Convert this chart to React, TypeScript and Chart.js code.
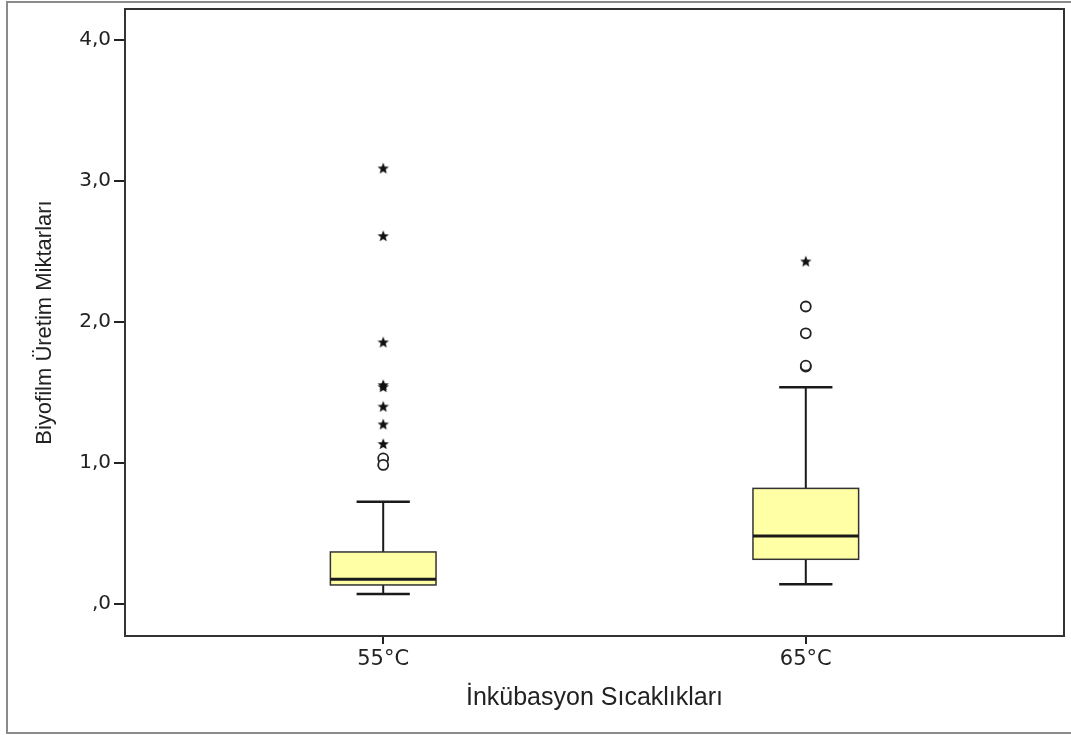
import React, { useEffect, useRef } from 'react';
import { Chart, registerables } from 'chart.js';

Chart.register(...registerables);

// ---- data ----
const categories = ['55°C', '65°C'];
const whiskerLow = [0.071, 0.14];
const q1 = [0.135, 0.317];
const median = [0.175, 0.482];
const q3 = [0.369, 0.82];
const whiskerHigh = [0.726, 1.537];
const outliers55 = [1.033, 0.986];
const outliers65 = [2.11, 1.92, 1.683, 1.69];
const extremes55 = [3.09, 2.61, 1.856, 1.553, 1.539, 1.4, 1.274, 1.135];
const extremes65 = [2.43];
const yTicks = [0, 1, 2, 3, 4];
const xTitle = 'İnkübasyon Sıcaklıkları';
const yTitle = 'Biyofilm Üretim Miktarları';

// ---- styles ----
const BOX_HALF = 0.125;
const CAP_HALF = 0.063;
const BOX_FILL = '#FFFFA6';
const INK = '#1a1a1a';

function makeStar(): HTMLCanvasElement {
  const c = document.createElement('canvas');
  c.width = 14;
  c.height = 14;
  const g = c.getContext('2d')!;
  g.fillStyle = '#111';
  g.beginPath();
  const cx = 7, cy = 7.3, ro = 6, ri = 2.6;
  for (let k = 0; k < 10; k++) {
    const r = k % 2 === 0 ? ro : ri;
    const a = -Math.PI / 2 + (k * Math.PI) / 5;
    const px = cx + r * Math.cos(a);
    const py = cy + r * Math.sin(a);
    if (k === 0) g.moveTo(px, py);
    else g.lineTo(px, py);
  }
  g.closePath();
  g.fill();
  return c;
}

const boxPlugin = {
  id: 'boxes',
  beforeDatasetsDraw(chart: any) {
    const { ctx, scales } = chart;
    const x = scales.x, y = scales.y;
    ctx.save();
    categories.forEach((_, i) => {
      const v = i + 1;
      const cx = x.getPixelForValue(v);
      const bl = x.getPixelForValue(v - BOX_HALF);
      const br = x.getPixelForValue(v + BOX_HALF);
      const cl = x.getPixelForValue(v - CAP_HALF);
      const cr = x.getPixelForValue(v + CAP_HALF);
      const yLo = y.getPixelForValue(whiskerLow[i]);
      const yQ1 = y.getPixelForValue(q1[i]);
      const yMed = y.getPixelForValue(median[i]);
      const yQ3 = y.getPixelForValue(q3[i]);
      const yHi = y.getPixelForValue(whiskerHigh[i]);
      ctx.strokeStyle = INK;
      ctx.lineWidth = 2;
      ctx.beginPath();
      ctx.moveTo(cx, yLo); ctx.lineTo(cx, yQ1);
      ctx.moveTo(cx, yQ3); ctx.lineTo(cx, yHi);
      ctx.stroke();
      ctx.lineWidth = 2.5;
      ctx.beginPath();
      ctx.moveTo(cl, yLo); ctx.lineTo(cr, yLo);
      ctx.moveTo(cl, yHi); ctx.lineTo(cr, yHi);
      ctx.stroke();
      ctx.fillStyle = BOX_FILL;
      ctx.fillRect(bl, yQ3, br - bl, yQ1 - yQ3);
      ctx.lineWidth = 1.5;
      ctx.strokeStyle = '#333';
      ctx.strokeRect(bl, yQ3, br - bl, yQ1 - yQ3);
      ctx.strokeStyle = INK;
      ctx.lineWidth = 3;
      ctx.beginPath();
      ctx.moveTo(bl, yMed); ctx.lineTo(br, yMed);
      ctx.stroke();
    });
    ctx.restore();
  },
};

const framePlugin = {
  id: 'frames',
  beforeDraw(chart: any) {
    const { ctx, width, height } = chart;
    ctx.save();
    ctx.fillStyle = '#fff';
    ctx.fillRect(0, 0, width, height);
    ctx.strokeStyle = '#8a8a8a';
    ctx.lineWidth = 2;
    ctx.strokeRect(7, 2, width + 20, 731);
    ctx.restore();
  },
  afterDraw(chart: any) {
    const { ctx, chartArea: a } = chart;
    ctx.save();
    ctx.strokeStyle = '#333';
    ctx.lineWidth = 2;
    ctx.strokeRect(a.left, a.top, a.right - a.left, a.bottom - a.top);
    ctx.restore();
  },
};

export default function App() {
  const ref = useRef<HTMLCanvasElement | null>(null);
  useEffect(() => {
    if (!ref.current) return;
    const star = makeStar();
    const circlePts = [
      ...outliers55.map((v) => ({ x: 1, y: v })),
      ...outliers65.map((v) => ({ x: 2, y: v })),
    ];
    const starPts = [
      ...extremes55.map((v) => ({ x: 1, y: v })),
      ...extremes65.map((v) => ({ x: 2, y: v })),
    ];
    const chart = new Chart(ref.current, {
      type: 'scatter',
      data: {
        datasets: [
          {
            label: 'Outliers',
            data: circlePts,
            pointStyle: 'circle',
            pointRadius: 5,
            pointBackgroundColor: '#fff',
            pointBorderColor: '#222',
            pointBorderWidth: 1.8,
          },
          {
            label: 'Extremes',
            data: starPts,
            pointStyle: star as any,
            pointRadius: 6,
          },
        ],
      },
      options: {
        animation: false,
        responsive: false,
        devicePixelRatio: 1,
        layout: { padding: { left: 0, top: 9, right: 7, bottom: 0 } },
        plugins: { legend: { display: false }, tooltip: { enabled: false } },
        scales: {
          x: {
            type: 'linear',
            min: 0.389,
            max: 2.611,
            afterBuildTicks: (s: any) => {
              s.ticks = categories.map((_, i) => ({ value: i + 1 }));
            },
            afterFit: (s: any) => {
              s.height = 99;
              s.paddingLeft = 0;
              s.paddingRight = 0;
            },
            border: { display: false },
            grid: { drawOnChartArea: false, drawTicks: true, tickLength: 8, tickColor: '#222', lineWidth: 2 },
            ticks: {
              color: '#222',
              font: { family: 'DejaVu Sans', size: 21 },
              padding: 3,
              maxRotation: 0,
              callback: (v: any) => categories[Number(v) - 1] ?? '',
            },
            title: {
              display: true,
              text: xTitle,
              color: '#222',
              font: { family: 'Liberation Sans', size: 25 },
              padding: { top: 0, bottom: 22 },
            },
          },
          y: {
            type: 'linear',
            min: -0.227,
            max: 4.22,
            afterBuildTicks: (s: any) => {
              s.ticks = yTicks.map((v) => ({ value: v }));
            },
            afterFit: (s: any) => {
              s.width = 125;
              s.paddingTop = 0;
              s.paddingBottom = 0;
            },
            border: { display: false },
            grid: { drawOnChartArea: false, drawTicks: true, tickLength: 11, tickColor: '#222', lineWidth: 2 },
            ticks: {
              color: '#222',
              font: { family: 'DejaVu Sans', size: 20 },
              padding: 3,
              callback: (v: any) => (Number(v) === 0 ? ',0' : Number(v).toFixed(1).replace('.', ',')),
            },
            title: {
              display: true,
              text: yTitle,
              color: '#222',
              font: { family: 'Liberation Sans', size: 22 },
              padding: { top: 32, bottom: 0 },
            },
          },
        },
      },
      plugins: [framePlugin, boxPlugin],
    });
    return () => chart.destroy();
  }, []);
  return (
    <div style={{ position: 'fixed', left: 0, top: 0, width: 1071, height: 735 }}>
      <canvas ref={ref} width={1071} height={735} style={{ display: 'block' }} />
    </div>
  );
}
